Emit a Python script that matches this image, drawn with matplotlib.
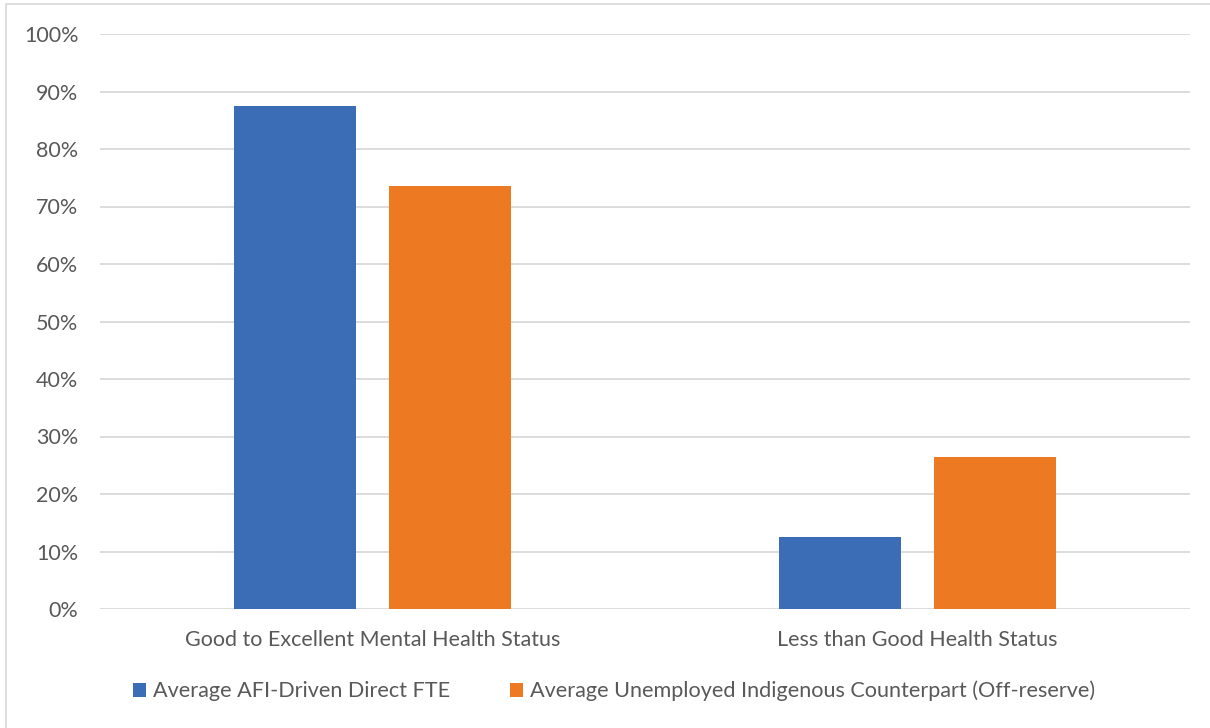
import matplotlib
matplotlib.use("Agg")
import matplotlib.pyplot as plt
from matplotlib.patches import Rectangle, Patch
from matplotlib.ticker import PercentFormatter
import numpy as np

categories = ["Good to Excellent Mental Health Status", "Less than Good Health Status"]
series_names = ["Average AFI-Driven Direct FTE",
                "Average Unemployed Indigenous Counterpart (Off-reserve)"]
afi_fte = [87.5, 12.5]
unemployed_counterpart = [73.5, 26.5]
y_ticks = list(range(0, 101, 10))

colors = ["#3A6DB5", "#ED7A23"]
text_color = "#595959"
grid_color = "#D9D9D9"

plt.rcParams["font.family"] = ["Lato", "DejaVu Sans"]

W, H = 1210, 728
fig = plt.figure(figsize=(W / 100, H / 100), dpi=100)

# outer chart border (clipped at right and bottom)
fig.patches.append(Rectangle((6 / W, 0 - 0.01), 1.1, (H - 4) / H + 0.01,
                             transform=fig.transFigure, fill=False,
                             edgecolor=grid_color, linewidth=1.2))

ax = fig.add_axes([100 / W, 1 - 609 / H, 1090 / W, (609 - 34) / H])

x = np.arange(len(categories))
width = 0.224
offset = 0.1425
ax.bar(x - offset, afi_fte, width, color=colors[0], zorder=3)
ax.bar(x + offset, unemployed_counterpart, width, color=colors[1], zorder=3)

ax.set_xlim(-0.5, 1.5)
ax.set_ylim(0, 100)
ax.set_yticks(y_ticks)
ax.yaxis.set_major_formatter(PercentFormatter(decimals=0))
ax.set_xticks(x)
ax.set_xticklabels(categories)
ax.yaxis.grid(True, color=grid_color, linewidth=1.3, zorder=0)
ax.set_axisbelow(True)
for s in ax.spines.values():
    s.set_visible(False)
ax.tick_params(axis="both", length=0, colors=text_color, labelsize=15.5)
ax.tick_params(axis="y", pad=15.5)
ax.tick_params(axis="x", pad=15)

handles = [Patch(facecolor=c, edgecolor="none") for c in colors]
fig.legend(handles, series_names, loc="center", bbox_to_anchor=(614 / W, 1 - 691 / H),
           ncol=2, frameon=False, fontsize=15.6, labelcolor=text_color,
           handlelength=0.6, handleheight=0.6, handletextpad=0.3, columnspacing=2.8)

fig.savefig("out.png", dpi=100)
